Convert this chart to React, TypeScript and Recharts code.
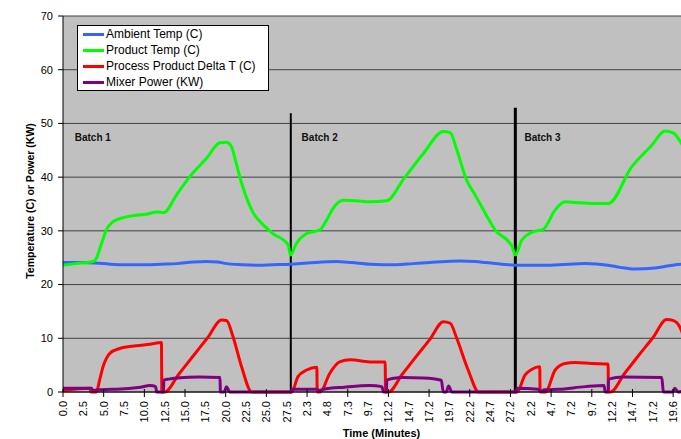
import React from 'react';
import { LineChart, Line, XAxis, YAxis, CartesianGrid, ReferenceLine, ReferenceDot, Legend, Label } from 'recharts';

const FONT = '"Liberation Sans", Arial, Helvetica, sans-serif';

// Category tick labels (minutes within each batch), one every 2.5 min of the shared axis
const batch1Ticks = ['0.0', '2.5', '5.0', '7.5', '10.0', '12.5', '15.0', '17.5', '20.0', '22.5', '25.0', '27.5'];
const batch2Ticks = ['2.3', '4.8', '7.3', '9.7', '12.2', '14.7', '17.2', '19.7', '22.2', '24.7', '27.2'];
const batch3Ticks = ['2.2', '4.7', '7.2', '9.7', '12.2', '14.7', '17.2', '19.6'];
const tickLabels = [...batch1Ticks, ...batch2Ticks, ...batch3Ticks];
const tickValues = tickLabels.map((_, i) => i * 2.5);

// Ambient Temp (C)
const ambientTime = [0, 2.5, 4, 5.8, 8, 10.2, 12, 14, 16, 17.6, 19, 20.1, 22, 24, 25.8, 27.9, 30, 33.6, 35.5, 37.7, 41, 43, 45.1, 47, 48.8, 50.7, 52, 54, 55.6, 58.9, 61, 64.2, 67, 68.5, 70.3, 72.8, 74.5, 76, 78.3];
const ambientTemp = [24.1, 24.1, 24.0, 23.8, 23.7, 23.7, 23.8, 23.9, 24.2, 24.3, 24.2, 23.9, 23.7, 23.6, 23.7, 23.8, 24.0, 24.3, 24.1, 23.8, 23.7, 23.9, 24.1, 24.3, 24.4, 24.3, 24.1, 23.8, 23.6, 23.6, 23.7, 23.9, 23.6, 23.2, 22.9, 23.1, 23.5, 23.8, 23.9];

// Product Temp (C)
const productTime = [0, 1.5, 3.7, 4.1, 4.7, 5.34, 6.15, 7.0, 7.8, 9.0, 10.26, 11.5, 12.39, 14, 15.59, 17.64, 19.28, 20.1, 20.7, 21.3, 21.95, 23.4, 24.5, 25.8, 27.68, 27.95, 28.7, 29.95, 31.6, 32.4, 33.2, 34.45, 36, 37.7, 39.8, 41.8, 44.3, 46.75, 47.6, 48.4, 49.6, 50.65, 51.9, 53.1, 55.2, 55.6, 56.4, 57.6, 59.05, 60.5, 61.7, 63, 65, 67.05, 69.9, 72.4, 74.0, 75.05, 76.0, 77];
const productTemp = [23.6, 23.9, 24.3, 24.9, 27.5, 30.2, 31.7, 32.3, 32.6, 32.9, 33.1, 33.5, 33.4, 36.8, 40.1, 43.5, 46.4, 46.5, 45.7, 42.5, 38.9, 33.3, 31.3, 29.5, 27.4, 25.5, 27.7, 29.5, 30.2, 32.0, 34.2, 35.7, 35.6, 35.4, 35.6, 39.5, 44.4, 48.5, 48.3, 45.1, 39.5, 36.7, 33.3, 30.2, 27.1, 25.5, 28.3, 29.7, 30.3, 33.9, 35.4, 35.3, 35.1, 35.1, 41.9, 46.0, 48.6, 48.2, 46.3, 43.5];

// Process Product Delta T (C)
const deltaTime = [0, 3.3, 3.45, 4.1, 4.5, 4.92, 5.35, 5.75, 6.98, 9.0, 10.67, 12.1, 12.15, 12.5, 14.25, 16, 17.75, 19.5, 20.1, 20.9, 21.95, 23.2, 28.1, 28.9, 29.95, 31.2, 31.25, 31.6, 32.8, 34.0, 35.3, 37.7, 39.6, 39.65, 40.0, 41.7, 43.4, 45.1, 46.75, 47.6, 48.4, 49.8, 51.1, 55.8, 56.8, 57.6, 58.6, 58.65, 59.3, 60.5, 61.7, 63.0, 65, 67, 67.05, 67.3, 69.0, 70.75, 72.5, 74.2, 75.05, 76.0, 76.5];
const deltaValue = [0.3, 0.7, 0, 0, 2.2, 4.7, 6.3, 7.2, 8.1, 8.6, 8.9, 9.2, 0, 0, 3.35, 6.7, 10.05, 13.4, 13.3, 10.3, 4.7, 0, 0, 2.9, 4.1, 4.6, 0, 0, 3.5, 5.6, 6.0, 5.6, 5.6, 0, 0, 3.3, 6.6, 9.8, 13.1, 12.8, 10.0, 4.1, 0, 0, 3.2, 4.2, 4.7, 0, 0, 4.1, 5.3, 5.5, 5.3, 5.2, 0, 0, 3.4, 6.8, 10.1, 13.5, 13.3, 11.5, 9];

// Mixer Power (KW)
const mixerTime = [0, 3.5, 3.7, 4.2, 6, 8.4, 9.5, 10.7, 11.4, 11.5, 12.35, 12.4, 13, 14, 16.8, 19.3, 19.35, 19.8, 20.1, 20.5, 28.1, 28.15, 31.2, 31.5, 32, 34.6, 37.7, 39.2, 39.4, 39.75, 39.8, 40.5, 41.8, 44.3, 46.5, 46.75, 47.1, 47.4, 47.8, 55.75, 55.8, 58.4, 58.7, 59.2, 60.9, 64.2, 66.5, 66.65, 67.0, 67.05, 68.9, 73.6, 73.8, 74.9, 75.2, 75.6, 76.5];
const mixerPower = [0.7, 0.7, 0.3, 0.4, 0.5, 0.7, 0.9, 1.2, 1.0, 0, 0, 2.2, 2.4, 2.6, 2.8, 2.7, 0, 0, 1.0, 0, 0, 0.5, 0.5, 0.3, 0.5, 0.9, 1.2, 1.0, 0, 0, 2.2, 2.5, 2.7, 2.6, 2.2, 0, 0, 1.1, 0, 0, 0.7, 0.5, 0.1, 0.4, 0.5, 1.0, 1.2, 0, 0, 2.4, 2.8, 2.7, 0, 0, 0.7, 0, 0.3];

const zip = (t: number[], v: number[]) => t.map((x, i) => ({ t: x, v: v[i] }));

const series = [
  { name: 'Ambient Temp (C)', color: '#3366FF', data: zip(ambientTime, ambientTemp) },
  { name: 'Product Temp (C)', color: '#00FF00', data: zip(productTime, productTemp) },
  { name: 'Process Product Delta T (C)', color: '#FF0000', data: zip(deltaTime, deltaValue) },
  { name: 'Mixer Power (KW)', color: '#800080', data: zip(mixerTime, mixerPower) },
];

const batchNames = ['Batch 1', 'Batch 2', 'Batch 3'];
const batchLabelTime = [1.44, 29.33, 56.72];
const batchLabelLevel = 47.4;
const batchStartTime = [28.0, 55.6];
const batchLineTop = [51.9, 52.9];
const batchLineWidth = [2, 3];

const yTicks = [0, 10, 20, 30, 40, 50, 60, 70];

const XTick = (props: any) => {
  const { x, y, payload } = props;
  const i = Math.round(payload.value / 2.5);
  return (
    <g>
      {i % 2 === 0 && <line x1={x} x2={x} y1={y - 12} y2={y - 4} stroke="#000" strokeWidth={1} />}
      <text
        x={x}
        y={y}
        transform={`rotate(-90 ${x} ${y})`}
        textAnchor="end"
        dominantBaseline="central"
        fontSize={11}
        fontFamily={FONT}
        fill="#000"
      >
        {tickLabels[i]}
      </text>
    </g>
  );
};

const renderLegend = () => (
  <div
    style={{
      boxSizing: 'border-box',
      width: 192,
      border: '1px solid #000',
      background: '#fff',
      fontFamily: FONT,
      fontSize: 12,
      color: '#000',
      padding: '0 4px 0 5px',
    }}
  >
    {series.map((s) => (
      <div key={s.name} style={{ display: 'flex', alignItems: 'center', height: 16, lineHeight: '16px', whiteSpace: 'nowrap' }}>
        <span style={{ display: 'inline-block', width: 21, height: 3, background: s.color, marginRight: 2 }} />
        <span>{s.name}</span>
      </div>
    ))}
  </div>
);

export default function App() {
  return (
    <div style={{ position: 'absolute', left: 0, top: 0, width: 681, height: 439, overflow: 'hidden', background: '#fff' }}>
      <LineChart width={720} height={439} margin={{ top: 16, right: 20, bottom: 0, left: 0 }}>
        <CartesianGrid vertical={false} stroke="#404040" fill="#C0C0C0" />
        <XAxis
          dataKey="t"
          type="number"
          domain={[0, 78.3]}
          ticks={tickValues}
          interval={0}
          height={47}
          tickSize={5}
          tickMargin={4}
          tickLine={false}
          axisLine={{ stroke: '#000', strokeWidth: 1 }}
          tick={<XTick />}
          allowDataOverflow
        >
          <Label
            value="Time (Minutes)"
            position="insideBottom"
            offset={2}
            style={{ fontFamily: FONT, fontSize: 11, fontWeight: 'bold', fill: '#000' }}
          />
        </XAxis>
        <YAxis
          type="number"
          domain={[0, 70]}
          ticks={yTicks}
          interval={0}
          width={63}
          tickSize={5}
          tickMargin={5}
          axisLine={{ stroke: '#000', strokeWidth: 1 }}
          tickLine={{ stroke: '#000' }}
          tick={{ fontSize: 11, fontFamily: FONT, fill: '#000' }}
        >
          <Label
            content={(p: any) => {
              const vb = p.viewBox || { x: 0, y: 16, width: 63, height: 376 };
              const cx = vb.x + 29.5;
              const cy = vb.y + vb.height / 2 - 3;
              return (
                <text
                  x={cx}
                  y={cy}
                  transform={`rotate(-90 ${cx} ${cy})`}
                  textAnchor="middle"
                  dominantBaseline="central"
                  fontSize={10.5}
                  fontWeight="bold"
                  fontFamily={FONT}
                  fill="#000"
                >
                  Temperature (C) or Power (KW)
                </text>
              );
            }}
          />
        </YAxis>
        {batchStartTime.map((bt, i) => (
          <ReferenceLine
            key={'bl' + i}
            segment={[{ x: bt, y: 0 }, { x: bt, y: batchLineTop[i] }]}
            stroke="#000"
            strokeWidth={batchLineWidth[i]}
          />
        ))}
        {series.map((s) => (
          <Line
            key={s.name}
            data={s.data}
            dataKey="v"
            name={s.name}
            type="monotone"
            stroke={s.color}
            strokeWidth={3}
            dot={false}
            activeDot={false}
            isAnimationActive={false}
          />
        ))}
        {batchNames.map((b, i) => (
          <ReferenceDot
            key={b}
            x={batchLabelTime[i]}
            y={batchLabelLevel}
            r={0}
            shape={(p: any) => (
              <text
                x={p.cx}
                y={p.cy}
                dominantBaseline="central"
                fontSize={10}
                fontWeight="bold"
                fontFamily={FONT}
                fill="#111"
              >
                {b}
              </text>
            )}
          />
        ))}
        <Legend
          layout="vertical"
          align="center"
          verticalAlign="middle"
          content={renderLegend}
          wrapperStyle={{ left: 77, top: 25, width: 192 }}
        />
      </LineChart>
    </div>
  );
}
